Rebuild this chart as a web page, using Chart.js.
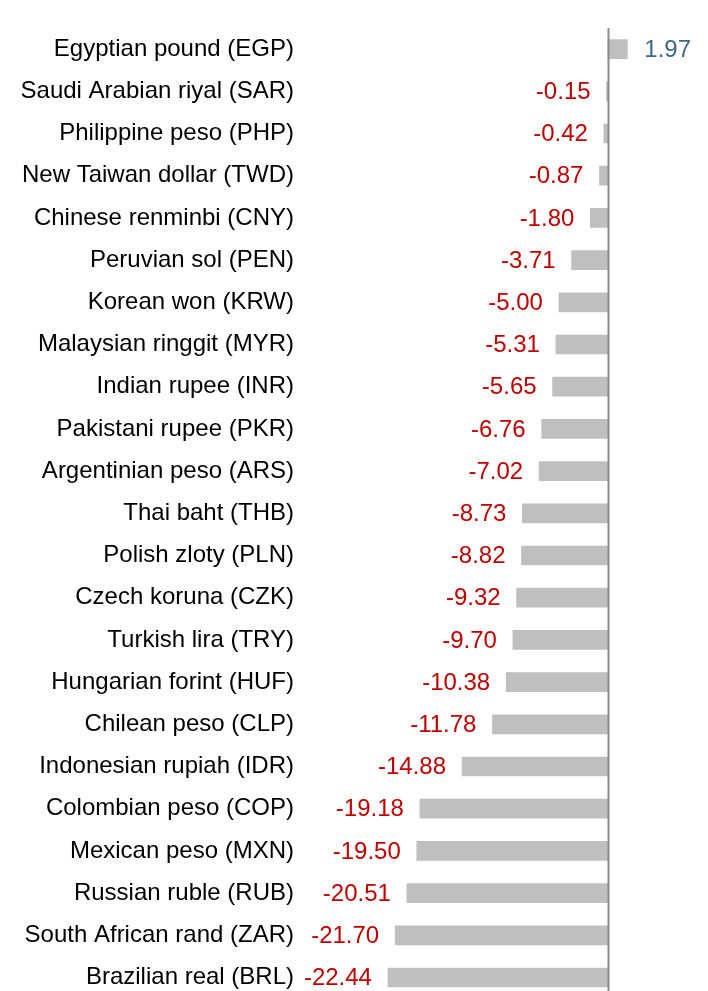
<!DOCTYPE html>
<html>
<head>
<meta charset="utf-8">
<script src="https://cdn.jsdelivr.net/npm/chart.js@4"></script>
<style>
  html, body { margin: 0; padding: 0; background: #fff; overflow: hidden; }
  #wrap { width: 708px; height: 1023px; }
</style>
</head>
<body>
<div id="wrap"><canvas id="fxChart" width="708" height="1023"></canvas></div>
<script>
// currencies, top to bottom
const currencies = [
    'Egyptian pound (EGP)', 'Saudi Arabian riyal (SAR)', 'Philippine peso (PHP)',
    'New Taiwan dollar (TWD)', 'Chinese renminbi (CNY)', 'Peruvian sol (PEN)',
    'Korean won (KRW)', 'Malaysian ringgit (MYR)', 'Indian rupee (INR)',
    'Pakistani rupee (PKR)', 'Argentinian peso (ARS)', 'Thai baht (THB)',
    'Polish zloty (PLN)', 'Czech koruna (CZK)', 'Turkish lira (TRY)',
    'Hungarian forint (HUF)', 'Chilean peso (CLP)', 'Indonesian rupiah (IDR)',
    'Colombian peso (COP)', 'Mexican peso (MXN)', 'Russian ruble (RUB)',
    'South African rand (ZAR)', 'Brazilian real (BRL)'
];

// % change vs USD
const changes = [
    1.97, -0.15, -0.42, -0.87, -1.80, -3.71, -5.00, -5.31, -5.65, -6.76, -7.02,
    -8.73, -8.82, -9.32, -9.70, -10.38, -11.78, -14.88, -19.18, -19.50, -20.51,
    -21.70, -22.44
];

const FONT = 'Arial, "Liberation Sans", sans-serif';

// value labels beside each bar
const valueLabels = {
    id: 'valueLabels',
    afterDatasetsDraw(chart) {
        const ctx = chart.ctx;
        const meta = chart.getDatasetMeta(0);
        ctx.save();
        ctx.font = '24px ' + FONT;
        ctx.textBaseline = 'middle';
        meta.data.forEach((bar, i) => {
            const v = changes[i];
            const txt = v.toFixed(2);
            if (v < 0) {
                ctx.fillStyle = '#c00000';
                ctx.textAlign = 'right';
                ctx.fillText(txt, bar.x - 16, bar.y + 1);
            } else {
                ctx.fillStyle = '#3e6985';
                ctx.textAlign = 'left';
                ctx.fillText(txt, bar.x + 17, bar.y + 1);
            }
        });
        ctx.restore();
    }
};

// vertical line at zero
const zeroLine = {
    id: 'zeroLine',
    afterDatasetsDraw(chart) {
        const ctx = chart.ctx;
        const x = Math.round(chart.scales.x.getPixelForValue(0)) + 0.5;
        ctx.save();
        ctx.strokeStyle = '#8c8c8c';
        ctx.lineWidth = 2;
        ctx.beginPath();
        ctx.moveTo(x, chart.chartArea.top);
        ctx.lineTo(x, chart.chartArea.bottom);
        ctx.stroke();
        ctx.restore();
    }
};

new Chart(document.getElementById('fxChart'), {
    type: 'bar',
    data: {
        labels: currencies,
        datasets: [{
            data: changes,
            backgroundColor: '#bfbfbf',
            borderWidth: 0,
            barThickness: 19
        }]
    },
    options: {
        indexAxis: 'y',
        responsive: false,
        animation: false,
        layout: { padding: { top: 28, bottom: 5, left: 0, right: 0 } },
        scales: {
            x: {
                display: false,
                min: -31,
                max: 10.2,
                grid: { display: false }
            },
            y: {
                afterFit: scale => { scale.width = 304; },
                border: { display: false },
                grid: { display: false, drawTicks: false },
                ticks: {
                    padding: 10,
                    color: '#000',
                    font: { family: FONT, size: 24 }
                }
            }
        },
        plugins: {
            legend: { display: false },
            tooltip: { enabled: false }
        }
    },
    plugins: [zeroLine, valueLabels]
});
</script>
</body>
</html>
